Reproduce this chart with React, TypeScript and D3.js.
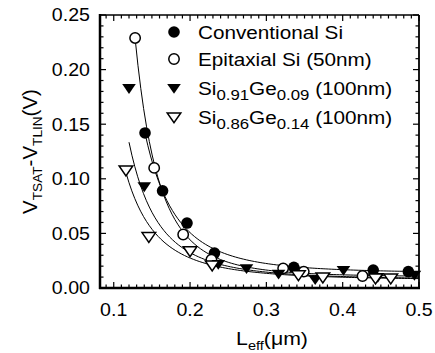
import React from "react";
import * as d3 from "d3";

const convX = [0.141, 0.164, 0.196, 0.232, 0.336, 0.44, 0.486];
const convY = [0.142, 0.089, 0.0595, 0.032, 0.019, 0.0165, 0.015];
const epiX = [0.128, 0.153, 0.191, 0.228, 0.322, 0.349, 0.426];
const epiY = [0.229, 0.11, 0.049, 0.026, 0.018, 0.015, 0.011];
const ge09X = [0.12, 0.14, 0.237, 0.274, 0.316, 0.364, 0.401, 0.446, 0.494];
const ge09Y = [0.183, 0.093, 0.022, 0.018, 0.013, 0.008, 0.0165, 0.01, 0.012];
const ge14X = [0.116, 0.146, 0.2, 0.229, 0.342, 0.374, 0.443, 0.463];
const ge14Y = [0.108, 0.047, 0.034, 0.021, 0.012, 0.01, 0.009, 0.009];

const xTicks = [0.1, 0.2, 0.3, 0.4, 0.5];
const yTicks = [0.0, 0.05, 0.1, 0.15, 0.2, 0.25];

const W = 435, H = 353;
const L = 100, R = 419, T = 15, B = 288;
const FONT = "Liberation Sans, Arial, Helvetica, sans-serif";
const SX = 1.12;

const x = d3.scaleLinear().domain([0.082, 0.5]).range([L, R]);
const y = d3.scaleLinear().domain([0, 0.25]).range([B, T]);

function fit(xs: number[], ys: number[]) {
  const minY = d3.min(ys) as number;
  let best = { a: 0, b: 0, c: 0, sse: Infinity };
  for (let k = 0; k < 200; k++) {
    const c = (minY * 0.98 * k) / 200;
    const lx = xs.map(Math.log);
    const ly = ys.map((v) => Math.log(v - c));
    const mx = d3.mean(lx) as number, my = d3.mean(ly) as number;
    let num = 0, den = 0;
    lx.forEach((v, i) => { num += (v - mx) * (ly[i] - my); den += (v - mx) * (v - mx); });
    const b = num / den;
    const a = Math.exp(my - b * mx);
    let sse = 0;
    xs.forEach((v, i) => { const p = a * Math.pow(v, b) + c; sse += (p - ys[i]) ** 2; });
    if (sse < best.sse) best = { a, b, c, sse };
  }
  return best;
}

function curvePath(xs: number[], ys: number[]) {
  const f = fit(xs, ys);
  const x0 = d3.min(xs) as number;
  const pts: [number, number][] = d3.range(0, 101).map((i) => {
    const xv = x0 + ((0.5 - x0) * i) / 100;
    return [x(xv), y(f.a * Math.pow(xv, f.b) + f.c)];
  });
  return d3.line()(pts) as string;
}

type Kind = "fc" | "oc" | "ft" | "ot";
function Marker({ cx, cy, kind }: { cx: number; cy: number; kind: Kind }) {
  if (kind === "fc") return <circle cx={cx} cy={cy} r={5.8} fill="#000" />;
  if (kind === "oc") return <circle cx={cx} cy={cy} r={5.2} fill="#fff" stroke="#000" strokeWidth={1.5} />;
  const s = 6.8;
  const d = `M${cx - s},${cy - s * 0.6}L${cx + s},${cy - s * 0.6}L${cx},${cy + s * 0.85}Z`;
  return kind === "ft" ? <path d={d} fill="#000" /> : <path d={d} fill="#fff" stroke="#000" strokeWidth={1.5} />;
}

const series: { xs: number[]; ys: number[]; kind: Kind }[] = [
  { xs: convX, ys: convY, kind: "fc" },
  { xs: epiX, ys: epiY, kind: "oc" },
  { xs: ge09X, ys: ge09Y, kind: "ft" },
  { xs: ge14X, ys: ge14Y, kind: "ot" },
];

function T_({ tx, ty, rot, anchor, size, children }: { tx: number; ty: number; rot?: number; anchor?: string; size: number; children: React.ReactNode }) {
  return (
    <g transform={`translate(${tx},${ty})${rot ? ` rotate(${rot})` : ""} scale(${SX},1)`}>
      <text x={0} y={0} textAnchor={anchor || "start"} fontSize={size}>{children}</text>
    </g>
  );
}

export default function App() {
  const xMinor = d3.range(9, 51).map((v) => v / 100);
  const yMinor = d3.range(0, 26).map((v) => v / 100);
  const legendY = [32, 59, 88, 117];
  const LF = 18.5, SF = 15;
  return (
    <svg width={W} height={H} style={{ position: "absolute", left: 0, top: 0, background: "#fff" }} fontFamily={FONT}>
      {xMinor.map((v) => {
        const major = Math.abs(v * 10 - Math.round(v * 10)) < 1e-6;
        const len = major ? 6 : 3.5;
        return (
          <g key={"xt" + v}>
            <line x1={x(v)} x2={x(v)} y1={B} y2={B - len} stroke="#000" strokeWidth={1.2} />
            <line x1={x(v)} x2={x(v)} y1={T} y2={T + len} stroke="#000" strokeWidth={1.2} />
          </g>
        );
      })}
      {yMinor.map((v) => {
        const major = Math.abs(v * 20 - Math.round(v * 20)) < 1e-6;
        const len = major ? 6 : 3.5;
        return (
          <g key={"yt" + v}>
            <line x1={L} x2={L + len} y1={y(v)} y2={y(v)} stroke="#000" strokeWidth={1.2} />
            <line x1={R} x2={R - len} y1={y(v)} y2={y(v)} stroke="#000" strokeWidth={1.2} />
          </g>
        );
      })}
      <line x1={L} x2={R} y1={T} y2={T} stroke="#000" strokeWidth={1.5} />
      <line x1={R} x2={R} y1={T} y2={B} stroke="#000" strokeWidth={1.8} />
      <line x1={L} x2={L} y1={T - 1} y2={B + 1} stroke="#000" strokeWidth={2.5} />
      <line x1={L - 1} x2={R + 1} y1={B} y2={B} stroke="#000" strokeWidth={2.5} />

      {xTicks.map((v) => (
        <T_ key={"xl" + v} tx={x(v)} ty={316} anchor="middle" size={17.5}>{v.toFixed(1)}</T_>
      ))}
      {yTicks.map((v) => (
        <T_ key={"yl" + v} tx={90} ty={y(v) + 6.3} anchor="end" size={17.5}>{v.toFixed(2)}</T_>
      ))}

      {series.map((s, i) => (
        <path key={"c" + i} d={curvePath(s.xs, s.ys)} fill="none" stroke="#000" strokeWidth={1} />
      ))}
      {series.map((s, i) =>
        s.xs.map((xv, j) => <Marker key={`m${i}-${j}`} cx={x(xv)} cy={y(s.ys[j])} kind={s.kind} />)
      )}

      {series.map((s, i) => <Marker key={"lm" + i} cx={174} cy={legendY[i]} kind={s.kind} />)}
      <T_ tx={198} ty={legendY[0] + 7} size={LF}>Conventional Si</T_>
      <T_ tx={198} ty={legendY[1] + 7} size={LF}>Epitaxial Si (50nm)</T_>
      <T_ tx={198} ty={legendY[2] + 7} size={LF}>
        Si<tspan fontSize={SF} dy={5}>0.91</tspan>
        <tspan dy={-5}>Ge</tspan>
        <tspan fontSize={SF} dy={5}>0.09</tspan>
        <tspan dy={-5}> (100nm)</tspan>
      </T_>
      <T_ tx={198} ty={legendY[3] + 7} size={LF}>
        Si<tspan fontSize={SF} dy={5}>0.86</tspan>
        <tspan dy={-5}>Ge</tspan>
        <tspan fontSize={SF} dy={5}>0.14</tspan>
        <tspan dy={-5}> (100nm)</tspan>
      </T_>

      <T_ tx={272} ty={345} anchor="middle" size={19}>
        L<tspan fontSize={13} dy={5}>eff</tspan>
        <tspan dy={-5}>(μm)</tspan>
      </T_>
      <g transform={`translate(37,${(T + B) / 2}) rotate(-90) scale(1.05,1)`}>
        <text textAnchor="middle" fontSize={19.5}>
          V<tspan fontSize={13} dy={5}>TSAT</tspan>
          <tspan dy={-5}>-V</tspan>
          <tspan fontSize={13} dy={5}>TLIN</tspan>
          <tspan dy={-5}>(V)</tspan>
        </text>
      </g>
    </svg>
  );
}
